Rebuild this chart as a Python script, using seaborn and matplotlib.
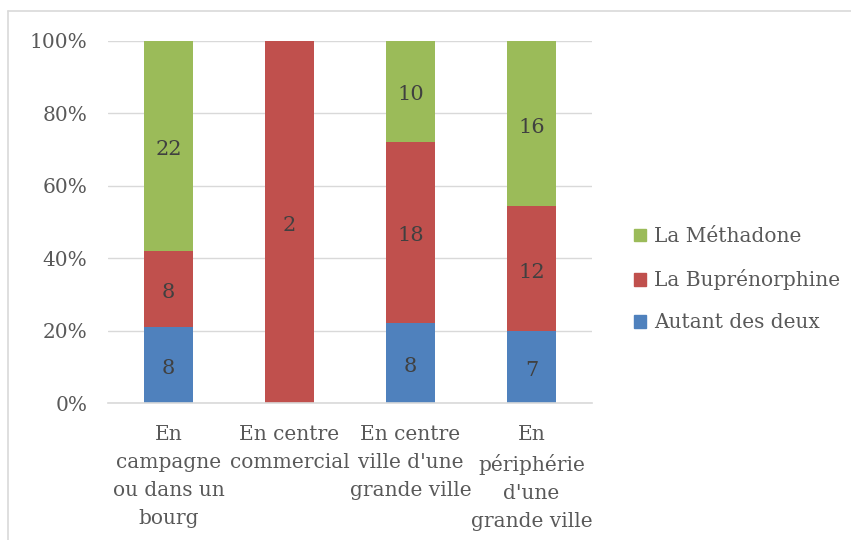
import pandas as pd
import matplotlib.pyplot as plt
import seaborn as sns
from matplotlib.patches import Patch
from matplotlib.lines import Line2D

# données
lieux = ["En\ncampagne\nou dans un\nbourg", "En centre\ncommercial",
         "En centre\nville d'une\ngrande ville", "En\npériphérie\nd'une\ngrande ville"]
autant = [8, 0, 8, 7]
bupre = [8, 2, 18, 12]
metha = [22, 0, 10, 16]
series = ["Autant des deux", "La Buprénorphine", "La Méthadone"]
couleurs = ["#4F81BD", "#C0504D", "#9BBB59"]

df = pd.DataFrame({"lieu": lieux, "Autant des deux": autant,
                   "La Buprénorphine": bupre, "La Méthadone": metha})
total = df[series].sum(axis=1)
pct = df[series].div(total, axis=0) * 100

sns.set_style("white")
plt.rcParams['font.family'] = ['DejaVu Serif']
gris = "#595959"

fig = plt.figure(figsize=(8.51, 5.40), dpi=100)
ax = fig.add_axes([0.1269, 0.2537, 0.5687, 0.6704])

bas = pd.Series([0.0] * len(df))
for s, c in zip(series, couleurs):
    sns.barplot(x=df["lieu"], y=pct[s], bottom=bas, color=c, width=0.4,
                saturation=1, ax=ax, edgecolor="none")
    for i in range(len(df)):
        v = df[s].iloc[i]
        if v > 0:
            ax.text(i, bas.iloc[i] + pct[s].iloc[i] / 2 - 1, str(v), ha="center",
                    va="center", fontsize=15, color="#404040")
    bas = bas + pct[s]

ax.set_ylim(0, 100)
ax.set_xlim(-0.5, 3.5)
ax.set_yticks(range(0, 101, 20))
ax.set_yticklabels([f"{t}%" for t in range(0, 101, 20)])
ax.yaxis.grid(True, color="#D9D9D9", linewidth=1)
ax.set_axisbelow(True)
ax.set_xlabel("")
ax.set_ylabel("")
for sp in ["top", "right", "left"]:
    ax.spines[sp].set_visible(False)
ax.spines["bottom"].set_color("#D9D9D9")
ax.spines["bottom"].set_linewidth(1.2)
ax.tick_params(axis="both", length=0, labelsize=14.5, labelcolor=gris)
ax.tick_params(axis="y", pad=15)
ax.tick_params(axis="x", pad=16)
for lab in ax.get_xticklabels():
    lab.set_linespacing(1.6)

handles = [Patch(color=c, label=s) for s, c in zip(series, couleurs)][::-1]
fig.legend(handles=handles, loc="center left", bbox_to_anchor=(0.724, 0.482),
           frameon=False, fontsize=14.5, labelcolor=gris, handlelength=0.6,
           handleheight=0.6, handletextpad=0.4, labelspacing=1.15)

# cadre du graphique
fig.add_artist(Line2D([8 / 851, 8 / 851], [0, 1 - 11 / 540], color="#D9D9D9", linewidth=1.2))
fig.add_artist(Line2D([8 / 851, 1], [1 - 11 / 540, 1 - 11 / 540], color="#D9D9D9", linewidth=1.2))

plt.savefig("out.png", dpi=100)
